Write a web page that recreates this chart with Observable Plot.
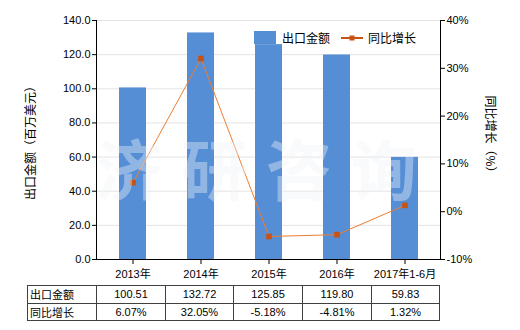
<!DOCTYPE html>
<html>
<head>
<meta charset="utf-8">
<script src="https://cdn.jsdelivr.net/npm/d3@7"></script>
<script src="https://cdn.jsdelivr.net/npm/@observablehq/plot@0.6"></script>
<style>
  html, body { margin: 0; padding: 0; background: #fff; }
  #wrap { position: relative; width: 520px; height: 330px; overflow: hidden;
    font-family: "Liberation Sans", "Noto Sans CJK SC", sans-serif; font-size: 11px; color: #000; }
  #wrap > svg { position: absolute; left: 0; top: 0; }
  .ov { position: absolute; white-space: nowrap; }
  table.dt { position: absolute; left: 27px; top: 285px; border-collapse: collapse; table-layout: fixed; }
  table.dt td { border: 1px solid #404040; height: 16.5px; padding: 0; text-align: center; font-size: 11px; line-height: 16px; }
  table.dt td.h { text-align: left; padding-left: 2px; font-family: "Noto Sans CJK SC", sans-serif; }
</style>
</head>
<body>
<div id="wrap"></div>
<script>
const categories = ["2013年", "2014年", "2015年", "2016年", "2017年1-6月"];
const exportValues = [100.51, 132.72, 125.85, 119.80, 59.83];
const growthPct = [6.07, 32.05, -5.18, -4.81, 1.32];
const exportLabels = ["100.51", "132.72", "125.85", "119.80", "59.83"];
const growthLabels = ["6.07%", "32.05%", "-5.18%", "-4.81%", "1.32%"];
const leftTicks = [0, 20, 40, 60, 80, 100, 120, 140];
const rightTicks = [-10, 0, 10, 20, 30, 40];
const seriesNames = ["出口金额", "同比增长"];
const axisTitles = ["出口金额（百万美元）", "同比增长（%）"];

// map percent onto the left (0..140) scale: -10% -> 0, 40% -> 140
const pctMin = -10, pctMax = 40, yMax = 140;
const toLeft = p => (p - pctMin) * yMax / (pctMax - pctMin);

const bars = categories.map((c, i) => ({cat: c, v: exportValues[i]}));
const pts = categories.map((c, i) => ({cat: c, p: toLeft(growthPct[i])}));

const BLUE = "#558ed5", LINE = "#ee7d30", MARK = "#c65316";

const chart = Plot.plot({
  width: 520, height: 330,
  marginLeft: 96, marginRight: 80, marginTop: 20, marginBottom: 71,
  style: {fontFamily: "'Liberation Sans', 'Noto Sans CJK SC', sans-serif", fontSize: "11px", background: "transparent", color: "#000"},
  x: {domain: categories, paddingInner: 0.61, paddingOuter: 0.305, axis: null},
  y: {domain: [0, yMax], axis: null},
  marks: [
    Plot.ruleY(leftTicks.slice(1), {stroke: "#e3e3e3", strokeWidth: 1}),
    Plot.barY(bars, {x: "cat", y: "v", fill: BLUE}),
    Plot.axisY(leftTicks, {anchor: "left", tickFormat: d => d.toFixed(1), tickSize: 4, tickPadding: 2, label: null, fontSize: 11}),
    Plot.axisY(rightTicks.map(toLeft), {anchor: "right", tickFormat: d => Math.round(d * (pctMax - pctMin) / yMax + pctMin) + "%", tickSize: 4, tickPadding: 2, label: null, fontSize: 11}),
    Plot.axisX({anchor: "bottom", tickSize: 5, tickPadding: 6, label: null}),
    Plot.frame({anchor: "left", stroke: "#000"}),
    Plot.frame({anchor: "right", stroke: "#000"}),
    Plot.frame({anchor: "bottom", stroke: "#000"}),
    Plot.line(pts, {x: "cat", y: "p", stroke: LINE, strokeWidth: 1}),
    Plot.dot(pts, {x: "cat", y: "p", symbol: "square", r: 3.2, fill: MARK, stroke: "none"})
  ]
});

const wrap = document.getElementById("wrap");
wrap.appendChild(chart);

// watermark
const wm = document.createElement("div");
wm.className = "ov";
wm.style.cssText = "left:96px;top:118px;font-family:'Noto Sans CJK SC',sans-serif;font-weight:bold;font-size:66px;letter-spacing:19px;color:rgba(238,242,247,0.4);";
wm.textContent = "济研咨询";
wrap.appendChild(wm);

// axis titles
function vTitle(text, cx, cy, deg) {
  const d = document.createElement("div");
  d.className = "ov";
  d.style.cssText = `left:${cx}px;top:${cy}px;font-family:'Noto Sans CJK SC',sans-serif;font-size:12px;line-height:14px;transform:translate(-50%,-50%) rotate(${deg}deg);`;
  d.textContent = text;
  wrap.appendChild(d);
}
vTitle(axisTitles[0], 30, 140, -90);
vTitle(axisTitles[1], 491, 137, 90);

// legend
function addLegendText(text, x) {
  const t = document.createElement("div");
  t.className = "ov";
  t.style.cssText = `left:${x}px;top:30px;font-family:'Noto Sans CJK SC',sans-serif;font-size:12px;line-height:16px;`;
  t.textContent = text;
  wrap.appendChild(t);
}
const sw = document.createElement("div");
sw.className = "ov";
sw.style.cssText = `left:254px;top:31px;width:22px;height:13px;background:${BLUE};`;
wrap.appendChild(sw);
addLegendText(seriesNames[0], 282);
const ls = document.createElementNS("http://www.w3.org/2000/svg", "svg");
ls.setAttribute("width", "24"); ls.setAttribute("height", "10");
ls.style.cssText = "position:absolute;left:340px;top:33px;";
ls.innerHTML = `<line x1="1" y1="5" x2="23" y2="5" stroke="${MARK}" stroke-width="2"/><rect x="9.5" y="2.5" width="5" height="5" fill="${MARK}"/>`;
wrap.appendChild(ls);
addLegendText(seriesNames[1], 368);

// data table
const tbl = document.createElement("table");
tbl.className = "dt";
const widths = [69, 69, 68, 69, 69, 68];
let html = "<colgroup>" + widths.map(w => `<col style="width:${w}px">`).join("") + "</colgroup>";
html += `<tr><td class="h">${seriesNames[0]}</td>` + exportLabels.map(s => `<td>${s}</td>`).join("") + "</tr>";
html += `<tr><td class="h">${seriesNames[1]}</td>` + growthLabels.map(s => `<td>${s}</td>`).join("") + "</tr>";
tbl.innerHTML = html;
wrap.appendChild(tbl);
</script>
</body>
</html>
